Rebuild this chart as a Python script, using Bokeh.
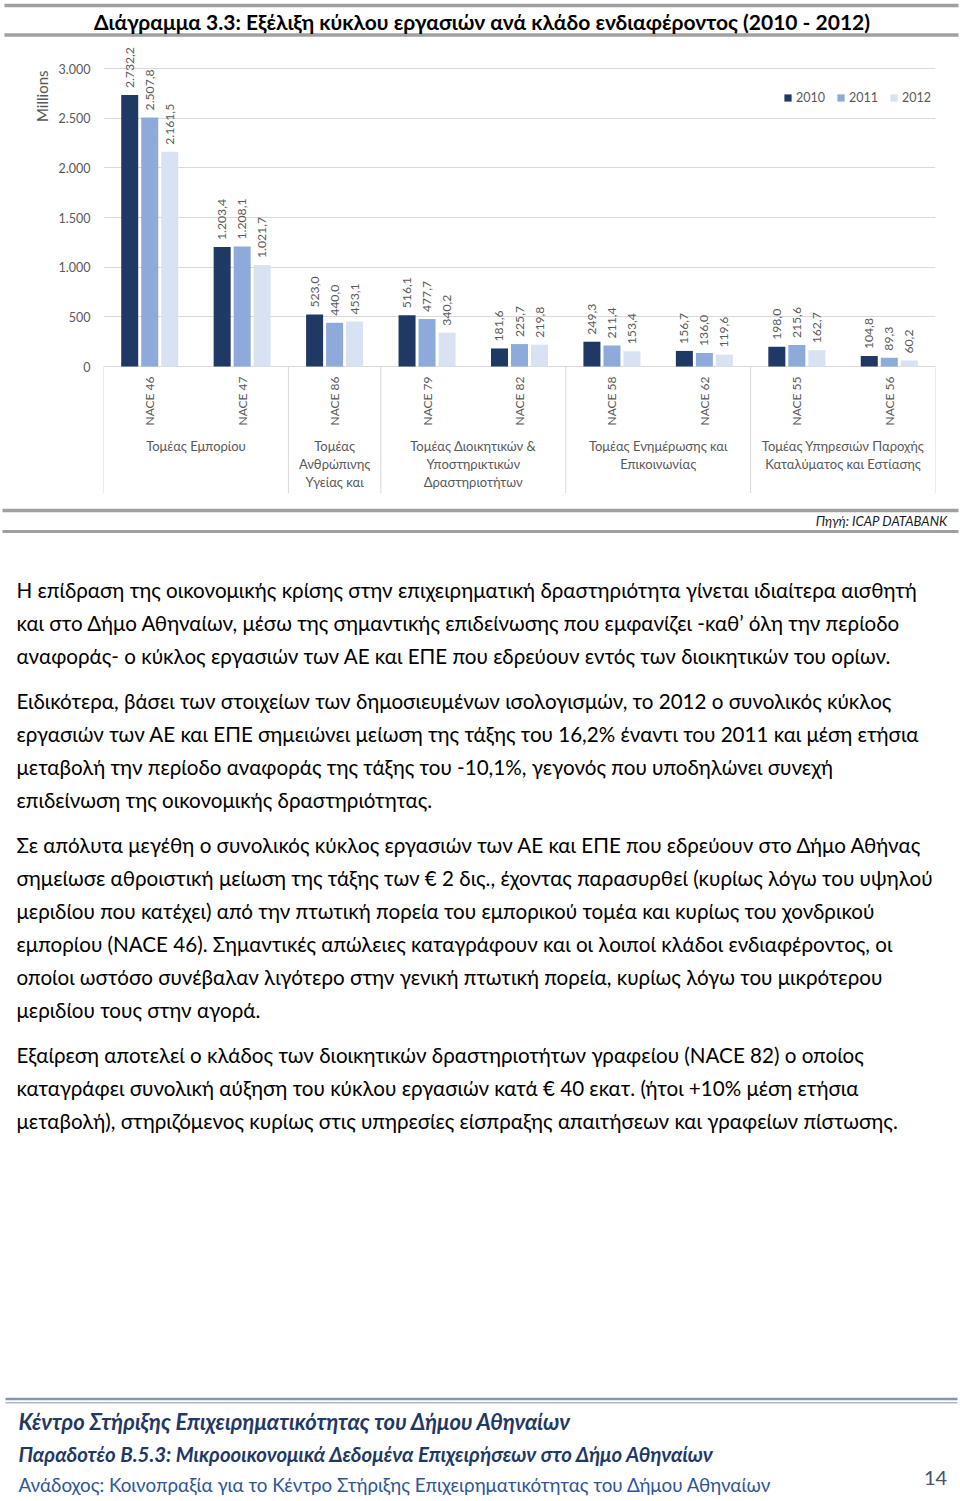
import math
from bokeh.plotting import figure
from bokeh.models import (FactorRange, Range1d, ColumnDataSource, FixedTicker,
                          Legend, LegendItem, Title)
from bokeh.transform import dodge
from bokeh.layouts import column
from bokeh.core.properties import value
from bokeh.embed import file_html
from bokeh.resources import INLINE

# ---------------- data ----------------
chart_title = "Διάγραμμα 3.3: Εξέλιξη κύκλου εργασιών ανά κλάδο ενδιαφέροντος (2010 - 2012)"
sector_names = ["Τομέας Εμπορίου",
                "Τομέας Ανθρώπινης Υγείας και Κοινωνικής Μέριμνας",
                "Τομέας Διοικητικών & Υποστηρικτικών Δραστηριοτήτων",
                "Τομέας Ενημέρωσης και Επικοινωνίας",
                "Τομέας Υπηρεσιών Παροχής Καταλύματος και Εστίασης"]
sector_labels = ["Τομέας Εμπορίου",
                 "Τομέας\nΑνθρώπινης\nΥγείας και",
                 "Τομέας Διοικητικών &\nΥποστηρικτικών\nΔραστηριοτήτων",
                 "Τομέας Ενημέρωσης και\nΕπικοινωνίας",
                 "Τομέας Υπηρεσιών Παροχής\nΚαταλύματος και Εστίασης"]
nace_codes = ["NACE 46", "NACE 47", "NACE 86", "NACE 79", "NACE 82",
              "NACE 58", "NACE 62", "NACE 55", "NACE 56"]
nace_sector = [0, 0, 1, 2, 2, 3, 3, 4, 4]
years = ["2010", "2011", "2012"]
v2010 = [2732.2, 1203.4, 523.0, 516.1, 181.6, 249.3, 156.7, 198.0, 104.8]
v2011 = [2507.8, 1208.1, 440.0, 477.7, 225.7, 211.4, 136.0, 215.6, 89.3]
v2012 = [2161.5, 1021.7, 453.1, 340.2, 219.8, 153.4, 119.6, 162.7, 60.2]
y_ticks = [0, 500, 1000, 1500, 2000, 2500, 3000]
y_tick_labels = ["0", "500", "1.000", "1.500", "2.000", "2.500", "3.000"]
y_axis_label = "Millions"
source_note = "Πηγή: ICAP DATABANK"

paragraphs = [
    ["Η επίδραση της οικονομικής κρίσης στην επιχειρηματική δραστηριότητα γίνεται ιδιαίτερα αισθητή",
     "και στο Δήμο Αθηναίων, μέσω της σημαντικής επιδείνωσης που εμφανίζει -καθ’ όλη την περίοδο",
     "αναφοράς- ο κύκλος εργασιών των ΑΕ και ΕΠΕ που εδρεύουν εντός των διοικητικών του ορίων."],
    ["Ειδικότερα, βάσει των στοιχείων των δημοσιευμένων ισολογισμών, το 2012 ο συνολικός κύκλος",
     "εργασιών των ΑΕ και ΕΠΕ σημειώνει μείωση της τάξης του 16,2% έναντι του 2011 και μέση ετήσια",
     "μεταβολή την περίοδο αναφοράς της τάξης του -10,1%, γεγονός που υποδηλώνει συνεχή",
     "επιδείνωση της οικονομικής δραστηριότητας."],
    ["Σε απόλυτα μεγέθη ο συνολικός κύκλος εργασιών των ΑΕ και ΕΠΕ που εδρεύουν στο Δήμο Αθήνας",
     "σημείωσε αθροιστική μείωση της τάξης των € 2 δις., έχοντας παρασυρθεί (κυρίως λόγω του υψηλού",
     "μεριδίου που κατέχει) από την πτωτική πορεία του εμπορικού τομέα και κυρίως του χονδρικού",
     "εμπορίου (NACE 46). Σημαντικές απώλειες καταγράφουν και οι λοιποί κλάδοι ενδιαφέροντος, οι",
     "οποίοι ωστόσο συνέβαλαν λιγότερο στην γενική πτωτική πορεία, κυρίως λόγω του μικρότερου",
     "μεριδίου τους στην αγορά."],
    ["Εξαίρεση αποτελεί ο κλάδος των διοικητικών δραστηριοτήτων γραφείου (NACE 82) ο οποίος",
     "καταγράφει συνολική αύξηση του κύκλου εργασιών κατά € 40 εκατ. (ήτοι +10% μέση ετήσια",
     "μεταβολή), στηριζόμενος κυρίως στις υπηρεσίες είσπραξης απαιτήσεων και γραφείων πίστωσης."],
]
footer_1 = "Κέντρο Στήριξης Επιχειρηματικότητας του Δήμου Αθηναίων"
footer_2 = "Παραδοτέο Β.5.3: Μικροοικονομικά Δεδομένα Επιχειρήσεων στο Δήμο Αθηναίων"
footer_3 = "Ανάδοχος: Κοινοπραξία για το Κέντρο Στήριξης Επιχειρηματικότητας του Δήμου Αθηναίων"
page_number = "14"

# ---------------- styles ----------------
FONT = "Lato"
GREY_TXT = "#595959"
GRID = "#d9d9d9"
RULE = "#a0a0a0"
colors = ["#1f3864", "#8eaadb", "#d9e2f3"]
W = 960


def fmt(v):
    s = f"{v:,.1f}"
    return s.replace(",", "X").replace(".", ",").replace("X", ".")


def blank_fig(h, y0, y1):
    f = figure(width=W, height=h, x_range=Range1d(0, W), y_range=Range1d(y1, y0),
               output_backend="svg", toolbar_location=None, title=None,
               x_axis_location=None, y_axis_location=None, frame_align=False,
               min_border_left=0, min_border_right=0, min_border_top=0, min_border_bottom=0)
    f.grid.visible = False
    f.outline_line_color = None
    return f


def hrule(f, y, w, color, x0=4, x1=958):
    f.line(x=[x0, x1], y=[y, y], line_width=w, line_color=color)


# ---------------- header ----------------
hdr = blank_fig(45, 0, 45)
hrule(hdr, 5.0, 3.5, RULE)
hrule(hdr, 34.5, 3.5, RULE)
hdr.text(x=[481.5], y=[20.5], text=[chart_title], text_font=value(FONT), text_font_style="bold",
         text_font_size="21px", text_align="center", text_baseline="middle", text_color="#000000")

# ---------------- chart ----------------
PPU = 298.0 / 3000.0       # pixels per data unit
BASE = 366.0               # reference pixel row of value 0


def dv(py):
    return (BASE - py) / PPU


factors = [(sector_names[s], n) for s, n in zip(nace_sector, nace_codes)]
xr = FactorRange(*factors, group_padding=0, subgroup_padding=0, factor_padding=0, range_padding=0)
p = figure(width=W, height=448, x_range=xr, y_range=Range1d(dv(493), dv(45)),
           output_backend="svg", toolbar_location=None, title=None, frame_align=False,
           min_border_left=103, min_border_right=25, min_border_top=0, min_border_bottom=0)
p.outline_line_color = None
p.xaxis.visible = False
p.xgrid.visible = False
p.ygrid.ticker = FixedTicker(ticks=y_ticks)
p.ygrid.grid_line_color = GRID
p.yaxis.ticker = FixedTicker(ticks=y_ticks)
p.yaxis.major_label_overrides = {t: l for t, l in zip(y_ticks, y_tick_labels)}
p.yaxis.axis_line_color = None
p.yaxis.major_tick_line_color = None
p.yaxis.major_tick_out = 0
p.yaxis.major_tick_in = 0
p.yaxis.minor_tick_line_color = None
p.yaxis.major_label_standoff = 13
p.yaxis.major_label_text_font = FONT
p.yaxis.major_label_text_font_size = "12.5px"
p.yaxis.major_label_text_color = GREY_TXT

src = ColumnDataSource(dict(
    x=factors, v2010=v2010, v2011=v2011, v2012=v2012,
    l2010=[fmt(v) for v in v2010], l2011=[fmt(v) for v in v2011], l2012=[fmt(v) for v in v2012],
))

# group separators below the baseline
sep_x = [(sector_names[0], nace_codes[0], -0.5)]
for i in range(len(factors) - 1):
    if nace_sector[i] != nace_sector[i + 1]:
        sep_x.append(factors[i] + (0.5,))
sep_x.append(factors[-1] + (0.5,))
p.segment(x0=sep_x, x1=sep_x, y0=[0] * len(sep_x), y1=[dv(493)] * len(sep_x),
          line_color=GRID, line_width=1)

BW = 17 / 92.4
OFF = 20 / 92.4
renderers = []
for k, (yr, col) in enumerate(zip(years, colors)):
    off = (k - 1) * OFF
    r = p.vbar(x=dodge("x", off, range=xr), top="v" + yr, width=BW, bottom=0,
               fill_color=col, line_color=None, source=src)
    renderers.append(r)
    p.text(x=dodge("x", off, range=xr), y="v" + yr, text="l" + yr, source=src,
           angle=math.pi / 2, text_align="left", text_baseline="middle", y_offset=-7,
           text_font=value(FONT), text_font_size="12.2px", text_color=GREY_TXT)

# category labels
p.text(x=factors, y=[dv(376)] * len(factors), text=nace_codes, angle=math.pi / 2,
       text_align="right", text_baseline="middle", text_font=value(FONT),
       text_font_size="12px", text_color=GREY_TXT)
p.text(x=sector_names, y=[dv(437)] * len(sector_names), text=sector_labels,
       text_align="center", text_baseline="top", text_line_height=1.15,
       text_font=value(FONT), text_font_size="13px", text_color=GREY_TXT)

legend = Legend(items=[LegendItem(label=yr, renderers=[r]) for yr, r in zip(years, renderers)],
                orientation="horizontal", location=(680, 388), border_line_color=None,
                background_fill_alpha=0, glyph_width=9, glyph_height=9, label_height=16,
                label_standoff=4, spacing=11, padding=0, margin=0,
                label_text_font=FONT, label_text_font_size="12.5px", label_text_color=GREY_TXT)
p.add_layout(legend)

p.add_layout(Title(text=y_axis_label, align="right", offset=25, text_font=FONT,
                   text_font_size="15px", text_font_style="normal", text_color=GREY_TXT), "left")

# ---------------- body ----------------
body = blank_fig(1008, 493, 1501)
hrule(body, 510, 3.5, RULE, 2, 958)
hrule(body, 531, 3.0, RULE, 2, 958)
body.text(x=[947], y=[520.5], text=[source_note], text_font=value(FONT), text_font_style="italic",
          text_font_size="13.2px", text_align="right", text_baseline="middle", text_color="#1a1a1a")

para_starts = [589, 700, 844, 1054]
xs, ys, ts = [], [], []
for start, lines in zip(para_starts, paragraphs):
    for j, ln in enumerate(lines):
        xs.append(16)
        ys.append(start + 33 * j)
        ts.append(ln)
body.text(x=xs, y=ys, text=ts, text_font=value(FONT), text_font_size="20.6px",
          text_align="left", text_baseline="middle", text_color="#000000")

hrule(body, 1398.5, 2.5, "#8497b0", 5, 957)
hrule(body, 1402.3, 1.0, "#8497b0", 5, 957)
body.text(x=[18], y=[1421], text=[footer_1], text_font=value(FONT), text_font_style="bold italic",
          text_font_size="22px", text_align="left", text_baseline="middle", text_color="#1f3864")
body.text(x=[18], y=[1453], text=[footer_2], text_font=value(FONT), text_font_style="bold italic",
          text_font_size="20.4px", text_align="left", text_baseline="middle", text_color="#1f3864")
body.text(x=[18], y=[1484], text=[footer_3], text_font=value(FONT),
          text_font_size="18.8px", text_align="left", text_baseline="middle", text_color="#2e5597")
body.text(x=[935], y=[1477], text=[page_number], text_font=value(FONT),
          text_font_size="20px", text_align="center", text_baseline="middle", text_color="#44546a")

layout = column(hdr, p, body, spacing=0)
open("out.html", "w").write(file_html(layout, INLINE))
